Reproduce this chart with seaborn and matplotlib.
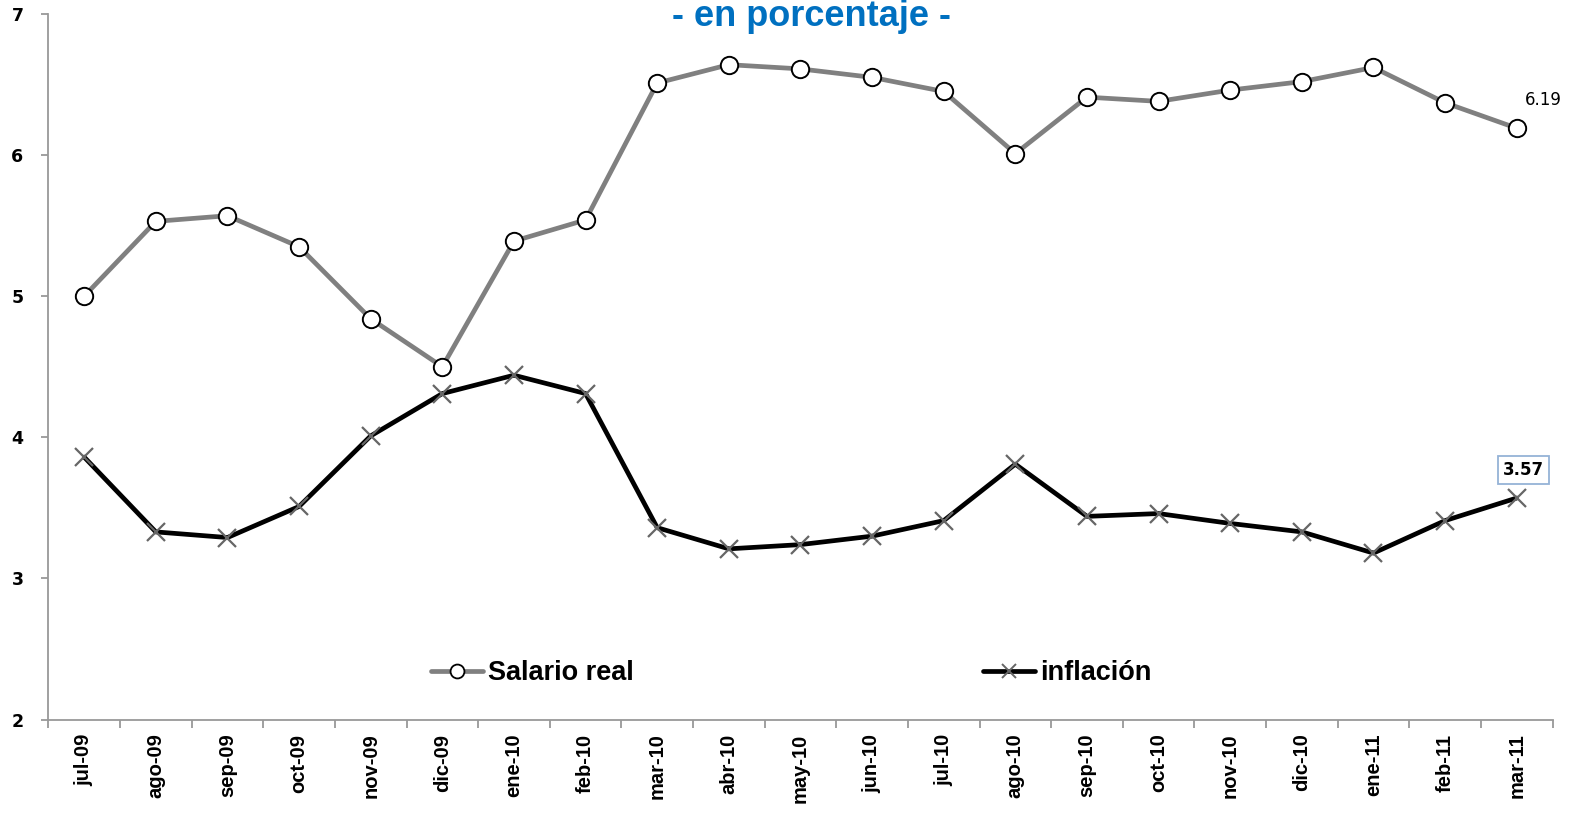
import matplotlib
matplotlib.use('Agg')
import matplotlib.pyplot as plt
import seaborn as sns
import pandas as pd
import numpy as np
from matplotlib.lines import Line2D

# Data
months = ['jul-09', 'ago-09', 'sep-09', 'oct-09', 'nov-09', 'dic-09', 'ene-10',
          'feb-10', 'mar-10', 'abr-10', 'may-10', 'jun-10', 'jul-10', 'ago-10',
          'sep-10', 'oct-10', 'nov-10', 'dic-10', 'ene-11', 'feb-11', 'mar-11']
salario_real = [5.00, 5.53, 5.57, 5.35, 4.84, 4.50, 5.39, 5.54, 6.51, 6.64, 6.61,
                6.55, 6.45, 6.01, 6.41, 6.38, 6.46, 6.52, 6.62, 6.37, 6.19]
inflacion = [3.86, 3.33, 3.29, 3.51, 4.01, 4.31, 4.44, 4.31, 3.36, 3.21, 3.24,
             3.30, 3.41, 3.81, 3.44, 3.46, 3.39, 3.33, 3.18, 3.41, 3.57]
y_ticks = [2, 3, 4, 5, 6, 7]

sns.set_style('white')
plt.rcParams['font.family'] = ['DejaVu Sans']
plt.rcParams['text.color'] = 'black'

df = pd.DataFrame({'pos': np.arange(len(months)), 'mes': months,
                   'salario': salario_real, 'inflacion': inflacion})

fig = plt.figure(figsize=(15.81, 8.15), dpi=100)
ax = fig.add_axes([0.0306, 0.117, 0.9514, 0.866])

sns.lineplot(data=df, x='pos', y='salario', ax=ax, color='#808080', linewidth=3.4,
             marker='o', markersize=12.5, markerfacecolor='white',
             markeredgecolor='black', markeredgewidth=1.4, sort=False)
sns.lineplot(data=df, x='pos', y='inflacion', ax=ax, color='black', linewidth=3.4,
             marker='x', markersize=13, markeredgecolor='#666666',
             markeredgewidth=1.6, sort=False)

ax.set_xlim(-0.5, len(months) - 0.5)
ax.set_ylim(2, 7)
ax.set_xlabel('')
ax.set_ylabel('')

# spines
for s in ['top', 'right']:
    ax.spines[s].set_visible(False)
for s in ['left', 'bottom']:
    ax.spines[s].set_color('#999999')
    ax.spines[s].set_linewidth(1.3)

# y ticks
ax.set_yticks(y_ticks)
ax.set_yticklabels([str(v) for v in y_ticks], fontsize=12.5, fontweight='bold')
ax.tick_params(axis='y', left=True, length=5, width=1.3, color='#999999', pad=13,
               labelcolor='black')

# x ticks: labels at centers, tick marks at boundaries
ax.set_xticks(np.arange(len(months)))
ax.set_xticklabels(months, rotation=90, fontsize=14.5, fontweight='bold',
                   family='Liberation Sans')
ax.tick_params(axis='x', which='major', bottom=False, length=0, pad=10,
               labelcolor='black')
ax.set_xticks(np.arange(len(months) + 1) - 0.5, minor=True)
ax.tick_params(axis='x', which='minor', bottom=True, length=6, width=1.3,
               color='#999999')

# end labels
ax.annotate(f'{salario_real[-1]:.2f}', xy=(len(months) - 1, salario_real[-1]),
            xytext=(6, 14), textcoords='offset points', fontsize=12,
            ha='left', va='bottom')
ax.annotate(f'{inflacion[-1]:.2f}', xy=(len(months) - 1, inflacion[-1]),
            xytext=(5, 14), textcoords='offset points', fontsize=12,
            fontweight='bold', ha='center', va='bottom',
            bbox=dict(boxstyle='square,pad=0.3', fc='white', ec='#95B3D7', lw=1.3))

# title, sitting right at the top edge as in the original
fig.text(0.513, 0.968, '- en porcentaje -', ha='center', va='baseline',
         fontsize=26, fontweight='bold', color='#0070C0', family='Liberation Sans')

# legend
handles = [
    Line2D([], [], color='#808080', lw=3.4, marker='o', markersize=10,
           markerfacecolor='white', markeredgecolor='black', markeredgewidth=1.3),
    Line2D([], [], color='black', lw=3.4, marker='x', markersize=10,
           markeredgecolor='#666666', markeredgewidth=1.4),
]
leg = ax.legend(handles, ['Salario real', 'inflación'], ncol=2, frameon=False,
                loc='center', bbox_to_anchor=(0.494, 0.066), handlelength=1.9,
                handletextpad=0.2, columnspacing=12.9,
                prop={'family': 'Liberation Sans', 'weight': 'bold', 'size': 19.5})

fig.savefig('out.png', dpi=100)
